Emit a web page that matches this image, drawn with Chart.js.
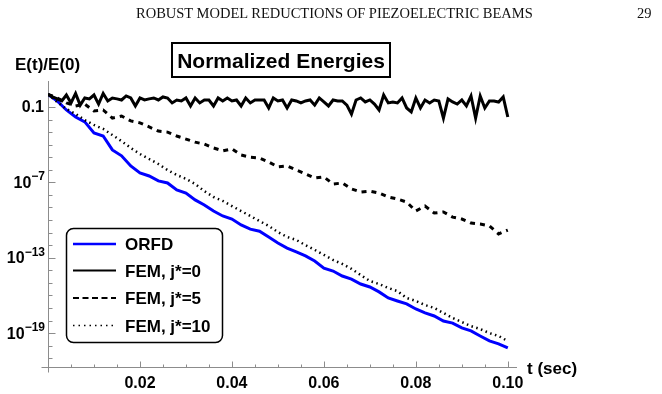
<!DOCTYPE html>
<html>
<head>
<meta charset="utf-8">
<script src="https://cdn.jsdelivr.net/npm/chart.js@4.4.1/dist/chart.umd.min.js"></script>
<style>
  html, body { margin: 0; padding: 0; background: #fff; }
  #wrap { position: relative; width: 662px; height: 394px; overflow: hidden; }
  #c { position: absolute; left: 0; top: 0; }
  .hdr { position: absolute; top: 5px; font: 14.5px "Liberation Serif", "DejaVu Serif", serif; color: #111; white-space: nowrap; }
</style>
</head>
<body>
<div id="wrap">
  <canvas id="c" width="662" height="394"></canvas>
  <div class="hdr" style="left:136px">ROBUST MODEL REDUCTIONS OF PIEZOELECTRIC BEAMS</div>
  <div class="hdr" style="left:637px">29</div>
</div>
<script>
// time grid (s): fine grid for the j*=0 run, every second point for the others
const tFine = [
  0, 0.001, 0.002, 0.003, 0.004, 0.005, 0.006, 0.007, 0.008, 0.009,
  0.010, 0.011, 0.012, 0.013, 0.014, 0.015, 0.016, 0.017, 0.018, 0.019,
  0.020, 0.021, 0.022, 0.023, 0.024, 0.025, 0.026, 0.027, 0.028, 0.029,
  0.030, 0.031, 0.032, 0.033, 0.034, 0.035, 0.036, 0.037, 0.038, 0.039,
  0.040, 0.041, 0.042, 0.043, 0.044, 0.045, 0.046, 0.047, 0.048, 0.049,
  0.050, 0.051, 0.052, 0.053, 0.054, 0.055, 0.056, 0.057, 0.058, 0.059,
  0.060, 0.061, 0.062, 0.063, 0.064, 0.065, 0.066, 0.067, 0.068, 0.069,
  0.070, 0.071, 0.072, 0.073, 0.074, 0.075, 0.076, 0.077, 0.078, 0.079,
  0.080, 0.081, 0.082, 0.083, 0.084, 0.085, 0.086, 0.087, 0.088, 0.089,
  0.090, 0.091, 0.092, 0.093, 0.094, 0.095, 0.096, 0.097, 0.098, 0.099,
  0.100
];
const tCoarse = tFine.filter((t, i) => i % 2 === 0);

// E(t)/E(0)
const orfd = [
  1, 3.0e-1, 5.8e-2, 1.6e-2, 6.5e-3, 8.5e-4, 4.9e-4, 3.8e-5, 1.3e-5, 2.0e-6,
  5.6e-7, 3.2e-7, 1.3e-7, 8.9e-8, 2.5e-8, 1.4e-8, 4.0e-9, 1.6e-9, 5.2e-10, 2.1e-10,
  1.2e-10, 4.1e-11, 1.9e-11, 1.3e-11, 4.5e-12, 1.5e-12, 5.9e-13, 2.9e-13, 1.4e-13, 5.5e-14,
  1.5e-14, 8.7e-15, 3.5e-15, 2.0e-15, 8.1e-16, 4.7e-16, 1.9e-16, 6.3e-17, 3.6e-17, 2.1e-17,
  8.3e-18, 4.1e-18, 2.3e-18, 9.1e-19, 6.3e-19, 2.6e-19, 1.5e-19, 5.9e-20, 2.4e-20, 1.4e-20,
  6.6e-21
];
const femJ0 = [
  1, 0.63, 0.44, 0.30, 0.90, 0.21, 1.2, 0.14, 0.52, 0.44,
  0.90, 0.17, 1.2, 0.30, 0.52, 0.44, 0.36, 0.75, 0.52, 0.12,
  0.52, 0.36, 0.44, 0.52, 0.36, 0.63, 0.52, 0.21, 0.36, 0.30,
  0.52, 0.12, 0.52, 0.21, 0.36, 0.36, 0.12, 0.52, 0.30, 0.52,
  0.30, 0.36, 0.12, 0.52, 0.21, 0.36, 0.36, 0.36, 0.083, 0.52,
  0.30, 0.36, 0.083, 0.36, 0.30, 0.21, 0.30, 0.36, 0.14, 0.52,
  0.25, 0.12, 0.36, 0.30, 0.30, 0.14, 0.027, 0.36, 0.52, 0.25,
  0.36, 0.17, 0.058, 0.90, 0.21, 0.25, 0.21, 0.52, 0.083, 0.040,
  0.52, 0.083, 0.36, 0.21, 0.36, 0.30, 0.013, 0.44, 0.25, 0.17,
  0.36, 0.12, 0.75, 0.013, 0.75, 0.083, 0.30, 0.30, 0.25, 0.63,
  0.016
];
const femJ5 = [
  1, 5.2e-1, 2.1e-1, 1.2e-1, 1.7e-1, 4.8e-2, 5.8e-2, 1.3e-2, 1.9e-2, 7.8e-3,
  5.4e-3, 2.6e-3, 1.2e-3, 1.0e-3, 4.9e-4, 2.8e-4, 1.6e-4, 1.1e-4, 5.5e-5, 3.2e-5,
  4.6e-5, 1.5e-5, 1.0e-5, 8.7e-6, 4.2e-6, 1.7e-6, 2.0e-6, 9.5e-7, 4.7e-7, 2.2e-7,
  2.7e-7, 7.4e-8, 8.9e-8, 3.0e-8, 1.7e-8, 2.0e-8, 1.4e-8, 6.8e-9, 4.7e-9, 2.7e-9,
  5.2e-10, 1.3e-9, 3.6e-10, 4.4e-10, 1.7e-10, 1.2e-10, 5.8e-11, 4.8e-11, 3.4e-11, 7.8e-12,
  1.6e-11
];
const femJ10 = [
  1, 2.5e-1, 6.9e-2, 2.8e-2, 9.1e-3, 3.7e-3, 1.8e-3, 5.9e-4, 1.9e-4, 5.5e-5,
  1.8e-5, 7.2e-6, 2.9e-6, 9.5e-7, 3.9e-7, 1.9e-7, 7.4e-8, 2.0e-8, 6.8e-9, 3.3e-9,
  1.3e-9, 5.2e-10, 2.1e-10, 8.3e-11, 3.4e-11, 1.1e-11, 4.5e-12, 2.6e-12, 1.0e-12, 4.2e-13,
  1.7e-13, 6.6e-14, 3.2e-14, 1.3e-14, 4.2e-15, 1.4e-15, 8.1e-16, 3.9e-16, 2.2e-16, 6.3e-17,
  3.6e-17, 1.7e-17, 1.0e-17, 4.0e-18, 1.6e-18, 7.6e-19, 3.6e-19, 2.1e-19, 1.0e-19, 5.9e-20,
  2.3e-20
];

const seriesNames = ['ORFD', 'FEM, j*=0', 'FEM, j*=5', 'FEM, j*=10'];
const xTickValues = [0.02, 0.04, 0.06, 0.08, 0.10];
const xTickLabels = ['0.02', '0.04', '0.06', '0.08', '0.10'];
const yTickValues = [1e-1, 1e-7, 1e-13, 1e-19];
const yTickLabels = ['0.1', '10^\u22127', '10^\u221213', '10^\u221219'];

const zip = (ts, vs) => vs.map((v, i) => ({ x: ts[i], y: v }));

const SANS = '"Liberation Sans", Arial, sans-serif';
const axisGray = '#8c8c8c';

const decor = {
  id: 'decor',
  beforeDatasetsDraw(chart) {
    const { ctx, chartArea: a, scales: { x, y } } = chart;
    ctx.save();
    ctx.strokeStyle = axisGray;
    ctx.lineWidth = 1;
    const x0 = Math.round(x.getPixelForValue(0)) + 0.5;
    const yb = Math.round(a.bottom) + 0.5;
    ctx.beginPath();
    ctx.moveTo(x0, a.top); ctx.lineTo(x0, yb + 5);
    ctx.moveTo(x0 - 7, yb); ctx.lineTo(a.right, yb);
    // x ticks, every 0.005 s, pointing into the plot
    for (let i = 1; i <= 20; i++) {
      const px = Math.round(x.getPixelForValue(i * 0.005)) + 0.5;
      const len = i % 4 === 0 ? 6 : 3;
      ctx.moveTo(px, yb); ctx.lineTo(px, yb - len);
    }
    // y ticks, one per decade
    for (let e = -21; e <= 0; e++) {
      const py = Math.round(y.getPixelForValue(Math.pow(10, e))) + 0.5;
      const len = (e + 1) % 6 === 0 ? 7 : 4;
      ctx.moveTo(x0, py); ctx.lineTo(x0 + len, py);
    }
    ctx.stroke();
    ctx.restore();
  },
  afterDraw(chart) {
    const { ctx, scales: { x, y } } = chart;
    ctx.save();
    ctx.fillStyle = '#000';
    // x tick labels
    ctx.font = 'bold 16px ' + SANS;
    ctx.textAlign = 'center';
    ctx.textBaseline = 'alphabetic';
    xTickValues.forEach((v, i) => ctx.fillText(xTickLabels[i], x.getPixelForValue(v), 388));
    // y tick labels with raised exponents
    ctx.textAlign = 'right';
    yTickValues.forEach((v, i) => {
      const py = y.getPixelForValue(v);
      const lab = yTickLabels[i];
      if (lab.includes('^')) {
        const [base, exp] = lab.split('^');
        ctx.font = 'bold 12px ' + SANS;
        const ew = ctx.measureText(exp).width;
        ctx.fillText(exp, 45, py - 2);
        ctx.font = 'bold 16px ' + SANS;
        ctx.fillText(base, 45 - ew, py + 5.5);
      } else {
        ctx.font = 'bold 16px ' + SANS;
        ctx.fillText(lab, 44, py + 5.5);
      }
    });
    // axis labels
    ctx.font = 'bold 17px ' + SANS;
    ctx.textAlign = 'left';
    ctx.fillText('E(t)/E(0)', 15, 70);
    ctx.fillText('t (sec)', 527, 374);
    // title box
    ctx.lineWidth = 2;
    ctx.strokeStyle = '#000';
    ctx.strokeRect(172, 43, 218, 34);
    ctx.font = 'bold 21px ' + SANS;
    ctx.textAlign = 'center';
    ctx.fillText('Normalized Energies', 281, 68);
    // legend
    ctx.beginPath();
    ctx.roundRect(66.5, 228.5, 156, 114, 7);
    ctx.fillStyle = '#fff';
    ctx.fill();
    ctx.lineWidth = 1.5;
    ctx.strokeStyle = '#000';
    ctx.stroke();
    const rows = [244, 270.5, 298, 325.5];
    const legDash = [[], [], [6, 3.5], [1.5, 4]];
    const legWidth = [2.5, 2, 2, 1.6];
    chart.data.datasets.forEach((ds, i) => {
      ctx.beginPath();
      ctx.setLineDash(legDash[i]);
      ctx.lineWidth = legWidth[i];
      ctx.strokeStyle = ds.borderColor;
      ctx.moveTo(73, rows[i]); ctx.lineTo(116, rows[i]);
      ctx.stroke();
      ctx.setLineDash([]);
      ctx.fillStyle = '#000';
      ctx.font = 'bold 17px ' + SANS;
      ctx.textAlign = 'left';
      ctx.fillText(ds.label, 125, rows[i] + 6);
    });
    ctx.restore();
  }
};

new Chart(document.getElementById('c'), {
  type: 'line',
  data: {
    datasets: [
      { label: seriesNames[0], data: zip(tCoarse, orfd), borderColor: '#0000ff', borderWidth: 3, order: 4 },
      { label: seriesNames[1], data: zip(tFine, femJ0), borderColor: '#000', borderWidth: 3, order: 3 },
      { label: seriesNames[2], data: zip(tCoarse, femJ5), borderColor: '#000', borderWidth: 3, borderDash: [5, 5], order: 2 },
      { label: seriesNames[3], data: zip(tCoarse, femJ10), borderColor: '#000', borderWidth: 2.5, borderDash: [1.5, 3.5], order: 1 }
    ]
  },
  options: {
    responsive: false,
    animation: false,
    devicePixelRatio: 1,
    layout: { padding: { left: 0, top: 81, right: 145, bottom: 0 } },
    elements: {
      point: { radius: 0 },
      line: { tension: 0, borderJoinStyle: 'miter', borderCapStyle: 'butt', fill: false }
    },
    scales: {
      x: {
        type: 'linear', min: 0, max: 0.102,
        grid: { display: false }, border: { display: false },
        ticks: { display: false },
        afterFit: s => { s.height = 27; }
      },
      y: {
        type: 'logarithmic', min: 2e-22, max: 11.7,
        grid: { display: false }, border: { display: false },
        ticks: { display: false },
        afterFit: s => { s.width = 48; }
      }
    },
    plugins: { legend: { display: false }, tooltip: { enabled: false } }
  },
  plugins: [decor]
});
</script>
</body>
</html>
